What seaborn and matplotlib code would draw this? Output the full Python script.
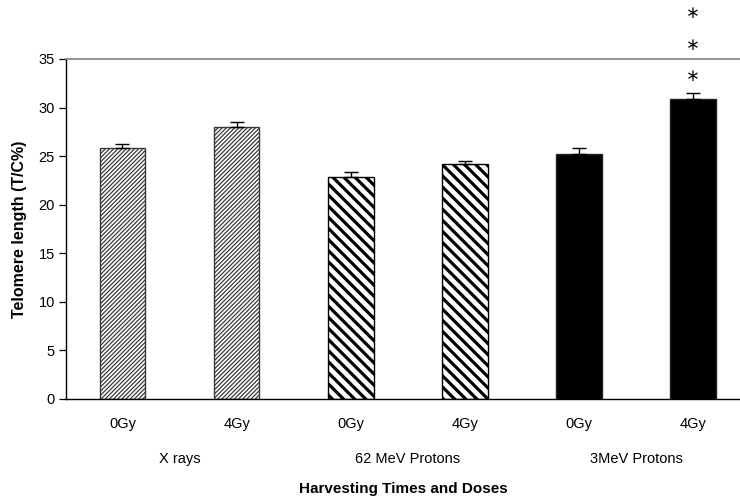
import matplotlib
matplotlib.use("Agg")
import matplotlib.pyplot as plt
import matplotlib.transforms as mtransforms
import numpy as np
import pandas as pd
import seaborn as sns

# Telomere length per radiation type and dose
groups = ["X rays", "X rays", "62 MeV Protons", "62 MeV Protons", "3MeV Protons", "3MeV Protons"]
doses = ["0Gy", "4Gy", "0Gy", "4Gy", "0Gy", "4Gy"]
telomere = [25.8, 28.05, 22.9, 24.15, 25.25, 30.85]
sem = [0.4, 0.45, 0.5, 0.35, 0.55, 0.65]
significance = ["", "", "", "", "", "***"]
group_names = ["X rays", "62 MeV Protons", "3MeV Protons"]

df = pd.DataFrame({
    "pos": [str(i) for i in range(len(telomere))],
    "group": groups,
    "dose": doses,
    "value": telomere,
})

sns.set_theme(style="white")
plt.rcParams["font.family"] = ["Liberation Sans", "DejaVu Sans"]
plt.rcParams["text.color"] = "black"
plt.rcParams["axes.labelcolor"] = "black"

fig = plt.figure(figsize=(7.40, 4.99), dpi=100)
ax = fig.add_axes([66 / 740, 1 - 399 / 499, 1 - 66 / 740, (399 - 59) / 499])

fills = ["white", "white", "white", "white", "black", "black"]
sns.barplot(data=df, x="pos", y="value", hue="pos", palette=fills, legend=False,
            errorbar=None, width=0.40, ax=ax, saturation=1)

hatches = ["////////", "////////", "\\\\\\", "\\\\\\", "", ""]
hatch_lw = [0.9, 0.9, 2.3, 2.3, 1.0, 1.0]
edge_cols = ["#3a3a3a", "#3a3a3a", "black", "black", "#222222", "#222222"]
for patch, h, lw, ec in zip(ax.patches, hatches, hatch_lw, edge_cols):
    patch.set_hatch(h)
    patch.set_edgecolor(ec)
    patch.set_linewidth(1.0)
    if hasattr(patch, "set_hatch_linewidth"):
        patch.set_hatch_linewidth(lw)

x = np.arange(len(telomere))
ax.errorbar(x, telomere, yerr=[np.zeros(len(sem)), sem], fmt="none",
            ecolor="black", elinewidth=1.0, capsize=5, capthick=1.0, zorder=3)

# significance stars stacked above the last bar
for xi, (v, e, s) in enumerate(zip(telomere, sem, significance)):
    for k, _ in enumerate(s):
        ax.text(xi, v + e + 1.7 + 3.25 * k, "\u2217", ha="center", va="center",
                fontsize=12, family="DejaVu Sans", color="#111111", clip_on=False)

ax.set_ylim(0, 35)
ax.set_xlim(-0.495, 5.41)
ax.set_yticks(np.arange(0, 36, 5))
ax.set_xticks(x)
ax.set_xticklabels(doses)
ax.tick_params(axis="x", length=0, pad=13, labelsize=10.5, colors="black")
ax.tick_params(axis="y", left=True, length=5, width=0.9, direction="out",
               labelsize=10.5, colors="black", pad=3)

for side in ["left", "bottom"]:
    ax.spines[side].set_color("black")
    ax.spines[side].set_linewidth(1.0)
ax.spines["top"].set_color("#808080")
ax.spines["top"].set_linewidth(1.2)
ax.spines["right"].set_visible(False)

# group captions under each pair of bars
trans = mtransforms.blended_transform_factory(ax.transData, ax.transAxes)
for gi, name in enumerate(group_names):
    ax.text(2 * gi + 0.5, -60 / 340, name, transform=trans, ha="center",
            va="center", fontsize=10.5)

ax.set_xlabel("Harvesting Times and Doses", fontsize=11, fontweight="bold", labelpad=37)
ax.set_ylabel("Telomere length (T/C%)", fontsize=11.5, fontweight="bold", labelpad=8)

fig.savefig("out.png", dpi=100)
